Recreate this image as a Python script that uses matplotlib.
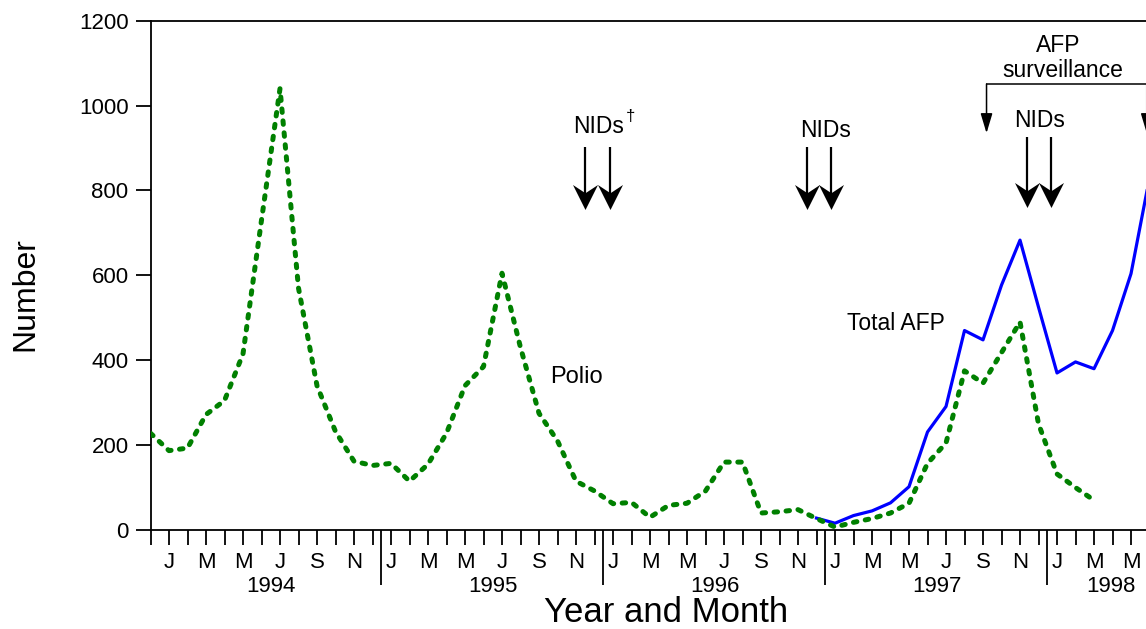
import numpy as np
import matplotlib
matplotlib.use("Agg")
import matplotlib.pyplot as plt
from matplotlib.path import Path

plt.rcParams['font.family'] = ['Liberation Sans', 'DejaVu Sans']

# ---------------- data ----------------
years = ["1994", "1995", "1996", "1997", "1998"]
month_letters = ["J", "F", "M", "A", "M", "J", "J", "A", "S", "O", "N", "D"]

# month index: 0 = Jan 1994
polio_start = -1          # Dec 1993
polio = [228,
         187, 193, 272, 305, 415, 730, 1040, 570, 340, 232, 162, 152,
         157, 115, 155, 228, 340, 385, 605, 430, 275, 210, 115, 92,
         62, 65, 30, 58, 63, 92, 160, 160, 40, 43, 48, 27,
         7, 18, 27, 40, 63, 157, 205, 375, 346, 418, 490, 250,
         132, 100, 70]

afp_start = 35            # Dec 1996
total_afp = [28,
             16, 34, 45, 64, 102, 231, 291, 470, 448, 577, 683, 525,
             370, 396, 380, 470, 604, 830]

nid_dates = [22.49, 23.84, 34.47, 35.77, 46.36, 47.66]   # month index of NIDs rounds
afp_surv_span = [44.19, 52.85]                          # start/end of AFP surveillance bracket

# ---------------- figure ----------------
W, H = 1146, 629
fig = plt.figure(figsize=(W / 100, H / 100), dpi=100)
ax = fig.add_axes([150.5 / W, 99 / H, (W - 150.5) / W, (530 - 20.7) / H])
ax.set_xlim(-1, 52.81)
ax.set_ylim(0, 1200)
upp = 1200 / (530 - 20.7)   # data units per pixel (vertical)

px = np.arange(polio_start, polio_start + len(polio))
ax_x = np.arange(afp_start, afp_start + len(total_afp))

ax.plot(ax_x, total_afp, color="#0000ff", lw=2.3, zorder=3)
ax.plot(px, polio, color="#008000", lw=3.6, linestyle=(0, (0.7, 1.7)),
        dash_capstyle="round", zorder=4)

# spines
for s in ["left", "top", "bottom"]:
    ax.spines[s].set_linewidth(1.3)
ax.spines["right"].set_visible(False)

# x ticks
ticks = list(range(-1, 53))
labels = [month_letters[i % 12] if (i >= 0 and i % 2 == 0) else "" for i in ticks]
ax.set_xticks(ticks)
ax.set_xticklabels(labels)
ax.tick_params(axis="x", which="major", direction="out", length=10.8, width=1.3,
               pad=5, labelsize=16)
dividers = [11.45 + 12 * k for k in range(4)]
ax.set_xticks(dividers, minor=True)
ax.tick_params(axis="x", which="minor", direction="out", length=39.6, width=1.3)

# y ticks
ax.set_yticks(range(0, 1201, 200))
ax.tick_params(axis="y", direction="out", length=10.8, width=1.3, pad=5, labelsize=16)

# year labels
trans = ax.get_xaxis_transform()
year_pos = [5.5 + 12 * k for k in range(4)] + [50.9]
for yp, yl in zip(year_pos, years):
    ax.text(yp, -(586 - 530) / (530 - 20.7), yl, transform=trans, ha="center",
            va="center", fontsize=16, clip_on=False)

# axis labels
fig.text(666 / W, 1 - 613 / H, "Year and Month", ha="center", va="center", fontsize=25)
fig.text(25 / W, 1 - 294 / H, "Number", ha="center", va="center", fontsize=23,
         rotation=90)

# series labels
ax.text(22.05, 361, "Polio", ha="center", va="center", fontsize=17)
ax.text(39.32, 486, "Total AFP", ha="center", va="center", fontsize=16.5)

# NIDs labels
ax.text(23.24, 951, "NIDs", ha="center", va="center", fontsize=16.5)
ax.text(24.95, 975, "\u2020", ha="center", va="center", fontsize=12)
ax.text(35.51, 942, "NIDs", ha="center", va="center", fontsize=16.5)
ax.text(47.08, 966, "NIDs", ha="center", va="center", fontsize=16.5)

# NIDs arrows: shaft + notched head
head = Path([(0, -0.5), (-0.5, 0.5), (0, 0.17), (0.5, 0.5), (0, -0.5)],
            [Path.MOVETO, Path.LINETO, Path.LINETO, Path.LINETO, Path.CLOSEPOLY])
head_px = 25
for i, d in enumerate(nid_dates):
    top, tip = (902, 754) if i < 4 else (926, 759)
    ax.plot([d, d], [top, tip + 10 * upp], color="black", lw=1.6, clip_on=False,
            solid_capstyle="butt")
    ax.plot([d], [tip + head_px / 2 * upp], marker=head, markersize=head_px * 0.72,
            color="black", markeredgewidth=0, clip_on=False, linestyle="none")

# AFP surveillance bracket
ax.text(48.05, 1141, "AFP", ha="center", va="center", fontsize=16.5)
ax.text(48.32, 1083, "surveillance", ha="center", va="center", fontsize=16.5)
ax.plot(afp_surv_span, [1051, 1051], color="black", lw=1.1, clip_on=False)
small = dict(arrowstyle="-|>,head_length=1.2,head_width=0.36", color="black", lw=1.1,
             mutation_scale=10, shrinkA=0, shrinkB=0)
for d in afp_surv_span:
    ax.annotate("", xy=(d, 935), xytext=(d, 1051), arrowprops=small, annotation_clip=False)

fig.savefig("out.png", dpi=100)
